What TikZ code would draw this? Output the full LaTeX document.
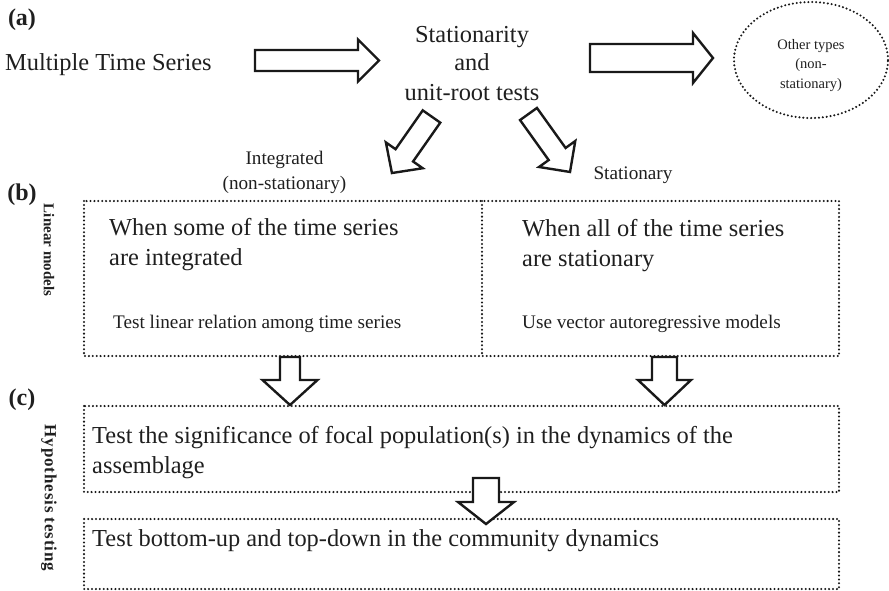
\documentclass[tikz,border=0pt]{standalone}
\usepackage{fontspec}
\setmainfont{Liberation Serif}
\usetikzlibrary{shapes.geometric}
\newcommand\blkarrow[7]{%
  \draw[blockarrow, shift={(#1,#2)}, rotate=#3]
    (0,-#5) -- ({#4-#7},-#5) -- ({#4-#7},-#6) -- (#4,0) -- ({#4-#7},#6) -- ({#4-#7},#5) -- (0,#5) -- cycle;}
\begin{document}
\begin{tikzpicture}[x=1pt,y=-1pt,
  dotline/.style={draw=black!90, line width=2.3pt, line cap=round, dash pattern=on 0pt off 3.9pt},
  blockarrow/.style={draw=black!90, line width=2.4pt, fill=white, line join=miter},
  txt/.style={inner sep=0pt, text=black!88},
  bigtxt/.style={txt, font=\fontsize{24.4}{29}\selectfont},
  midtxt/.style={txt, font=\fontsize{19.2}{24}\selectfont},
  smalltxt/.style={txt, font=\fontsize{14.5}{18}\selectfont},
  panellab/.style={txt, font=\fontsize{24}{28}\selectfont\bfseries},
  sidelab/.style={txt, font=\fontsize{15}{18}\selectfont\bfseries, rotate=-90},
]
\useasboundingbox (0,0) rectangle (889,590);

% panel labels
\node[panellab] (la) at (22,20) {(a)};
\node[panellab] (lb) at (22,195) {(b)};
\node[panellab] (lc) at (22,400) {(c)};
\node[sidelab] (slin) at (49,250) {Linear models};
\node[sidelab, font=\fontsize{17}{20}\selectfont\bfseries\addfontfeature{LetterSpace=5}] (shyp) at (49,498) {Hypothesis testing};

% top row
\node[bigtxt, anchor=base west] (mts) at (5,70.5) {Multiple Time Series};
\node[bigtxt, anchor=base] (st1) at (472,42.5) {Stationarity};
\node[bigtxt, anchor=base] (st2) at (472,70.5) {and};
\node[bigtxt, anchor=base] (st3) at (472,100.5) {unit-root tests};

\node[dotline, ellipse, minimum width=154pt, minimum height=116pt, inner sep=0pt] (other) at (811,60) {};
\node[smalltxt, anchor=base] (ot1) at (811,49) {Other types};
\node[smalltxt, anchor=base] (ot2) at (811,68.5) {(non-};
\node[smalltxt, anchor=base] (ot3) at (811,88) {stationary)};

\blkarrow{255}{60.5}{0}{124}{10.5}{21}{21}
\blkarrow{590}{58}{0}{123}{14}{25}{20}

% diagonal arrows
\blkarrow{431.5}{116.5}{-125}{69}{10.7}{22.5}{21.6}
\blkarrow{528.5}{114}{-54.4}{71.3}{10.4}{22.3}{22.1}

\node[midtxt, anchor=base] (int1) at (284.5,164) {Integrated};
\node[midtxt, anchor=base] (int2) at (284.5,189) {(non-stationary)};
\node[midtxt, anchor=base] (stat) at (633,179) {Stationary};

% linear models boxes
\coordinate (b1) at (84,201);
\coordinate (b2) at (839,356);
\coordinate (bmt) at (482,201);
\coordinate (bmb) at (482,356);
\draw[dotline] (b1) rectangle (b2);
\draw[dotline] (bmt) -- (bmb);

\node[bigtxt, anchor=base west] (w1) at (109,235) {When some of the time series};
\node[bigtxt, anchor=base west] (w2) at (109,265) {are integrated};
\node[midtxt, anchor=base west] (w3) at (113,328) {Test linear relation among time series};
\node[bigtxt, anchor=base west] (a1) at (522,236) {When all of the time series};
\node[bigtxt, anchor=base west] (a2) at (522,266) {are stationary};
\node[midtxt, anchor=base west] (a3) at (522,328) {Use vector autoregressive models};

% hypothesis boxes
\coordinate (c1) at (84,406);
\coordinate (c2) at (839,492);
\draw[dotline] (c1) rectangle (c2);
\coordinate (d1) at (84,519);
\coordinate (d2) at (839,589);
\draw[dotline] (d1) rectangle (d2);

\node[bigtxt, anchor=base west] (t1) at (92,443) {Test the significance of focal population(s) in the dynamics of the};
\node[bigtxt, anchor=base west] (t2) at (92,473) {assemblage};
\node[bigtxt, anchor=base west] (t3) at (92,546) {Test bottom-up and top-down in the community dynamics};

% down arrows
\blkarrow{290}{357}{-90}{48}{10}{27.5}{25}
\blkarrow{664.5}{357}{-90}{48}{12.5}{26.5}{25}
\blkarrow{486}{478}{-90}{46}{13}{28}{22}
\end{tikzpicture}
\end{document}
